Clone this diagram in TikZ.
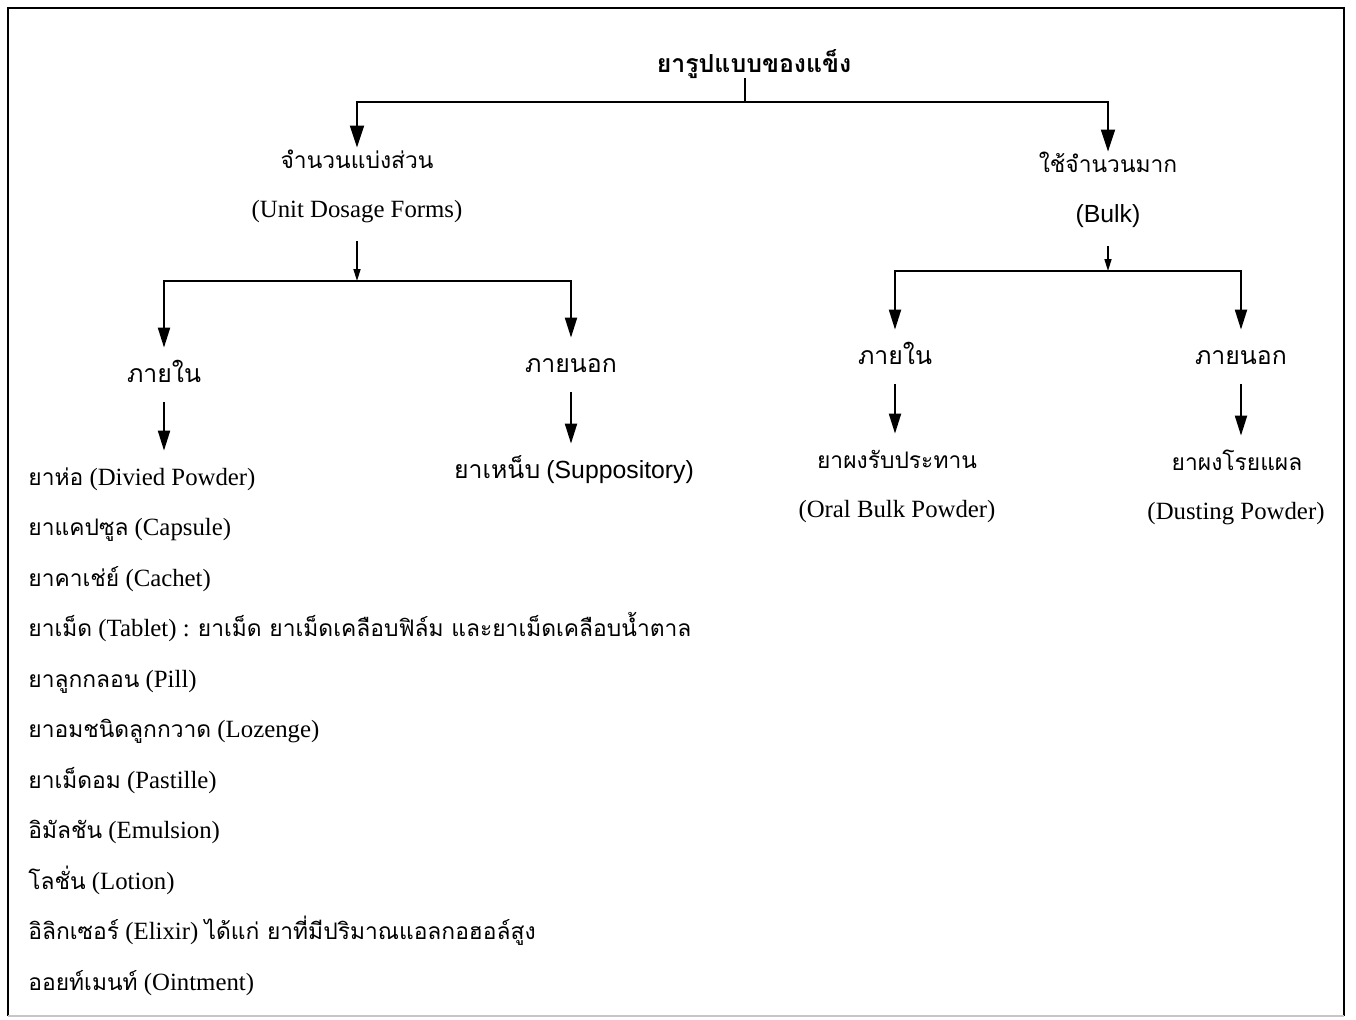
\documentclass[tikz,border=0pt]{standalone}
\usepackage{fontspec}
\setmainfont{Liberation Serif}
\newfontfamily\thai[Script=Thai,Scale=0.92]{Loma}
\newfontfamily\arial{Liberation Sans}
\usetikzlibrary{arrows.meta,positioning}

\begin{document}
\begin{tikzpicture}
	[x=0.5pt,y=-0.5pt,
	txt/.style={anchor=base,inner sep=0pt,text height=10pt,text depth=3pt,font=\fontsize{12.4}{15}\selectfont},
	entry/.style={txt,anchor=base west},
	bigarr/.style={line width=1pt,-{Triangle[length=11pt,width=7pt]}},
	arr/.style={line width=1pt,-{Triangle[length=10pt,width=6pt]},shorten >=7pt,shorten <=7pt},
	smallarr/.style={line width=0.8pt,-{Triangle[length=6pt,width=3.5pt]},shorten <=9pt},
	frame/.style={line width=1.2pt}]
	\useasboundingbox (0,0) rectangle (1356,1019);
%%	frame round the chart
	\draw [frame] (8,1016) -- (8,8) -- (1344,8) -- (1344,1016);
	\draw [gray!45,line width=1pt] (8,1016) -- (1344,1016);
	% top level
	\node (solid) at (754,72) [txt] {\thai\bfseries\fontsize{13.5}{15}\selectfont ยารูปแบบของแข็ง};
	\coordinate (topbar) at (745,102);
	\node (unit) at (357,168) [txt] {\thai จำนวนแบ่งส่วน};
	\node (unitEn) at (357,217) [txt] {(Unit Dosage Forms)};
	\node (bulk) at (1108,172) [txt] {\thai ใช้จำนวนมาก};
	\node (bulkEn) at (1108,222) [txt] {\arial (Bulk)};
	\coordinate (unitbar) at (357,281);
	\coordinate (bulkbar) at (1108,271);
	% second level
	\node (inL) at (164,382) [txt] {\thai\fontsize{13.5}{15}\selectfont ภายใน};
	\node (outL) at (571,372) [txt] {\thai\fontsize{13.5}{15}\selectfont ภายนอก};
	\node (inR) at (895,364) [txt] {\thai\fontsize{13.5}{15}\selectfont ภายใน};
	\node (outR) at (1241,364) [txt] {\thai\fontsize{13.5}{15}\selectfont ภายนอก};
	% dosage forms
	\node (divided) at (28,485) [entry] {{\thai ยาห่อ} (Divied Powder)};
	\node (capsule) at (28,535.5) [entry] {{\thai ยาแคปซูล} (Capsule)};
	\node (cachet) at (28,586) [entry] {{\thai ยาคาเช่ย์} (Cachet)};
	\node (tablet) at (28,636.5) [entry] {{\thai ยาเม็ด} (Tablet) : {\thai ยาเม็ด ยาเม็ดเคลือบฟิล์ม และยาเม็ดเคลือบน้ำตาล}};
	\node (pill) at (28,687) [entry] {{\thai ยาลูกกลอน} (Pill)};
	\node (lozenge) at (28,737.5) [entry] {{\thai ยาอมชนิดลูกกวาด} (Lozenge)};
	\node (pastille) at (28,788) [entry] {{\thai ยาเม็ดอม} (Pastille)};
	\node (emulsion) at (28,838.5) [entry] {{\thai อิมัลชัน} (Emulsion)};
	\node (lotion) at (28,889) [entry] {{\thai โลชั่น} (Lotion)};
	\node (elixir) at (28,939.5) [entry] {{\thai อิลิกเซอร์} (Elixir) {\thai ได้แก่ ยาที่มีปริมาณแอลกอฮอล์สูง}};
	\node (ointment) at (28,990) [entry] {{\thai ออยท์เมนท์} (Ointment)};
	\node (supp) at (574,478) [txt] {{\thai\fontsize{13.5}{15}\selectfont ยาเหน็บ} {\arial (Suppository)}};
	\node (oral) at (897,468) [txt] {\thai ยาผงรับประทาน};
	\node (oralEn) at (897,517) [txt] {(Oral Bulk Powder)};
	\node (dusting) at (1237,470) [txt] {\thai ยาผงโรยแผล};
	\node (dustingEn) at (1236,519) [txt] {(Dusting Powder)};
	% connectors
	\draw [line width=1pt] (solid.south -| topbar) -- (topbar);
	\draw [bigarr] (topbar) -| (unit);
	\draw [bigarr] (topbar) -| (bulk);
	\draw [smallarr] (unitEn) -- (unitbar);
	\draw [smallarr] (bulkEn) -- (bulkbar);
	\draw [arr,shorten <=0pt] (unitbar) -| (inL);
	\draw [arr,shorten <=0pt] (unitbar) -| (outL);
	\draw [arr,shorten <=0pt] (bulkbar) -| (inR);
	\draw [arr,shorten <=0pt] (bulkbar) -| (outR);
	\draw [arr] (inL) -- (inL |- divided.north);
	\draw [arr] (outL) -- (outL |- supp.north);
	\draw [arr] (inR) -- (inR |- oral.north);
	\draw [arr] (outR) -- (outR |- dusting.north);
\end{tikzpicture}
\end{document}
